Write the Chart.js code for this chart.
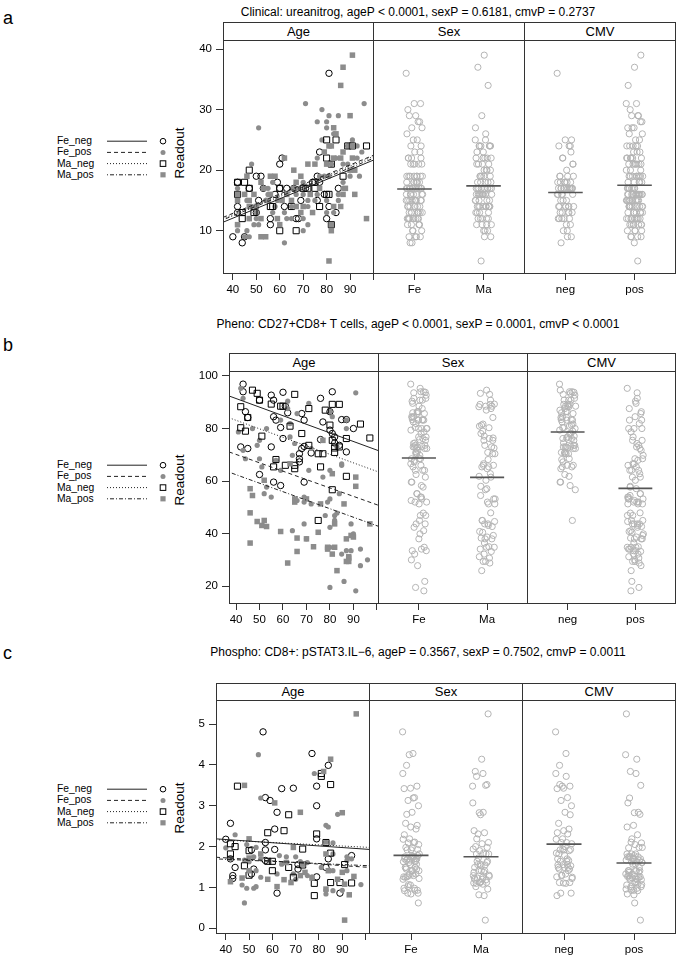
<!DOCTYPE html>
<html>
<head>
<meta charset="utf-8">
<script src="https://cdn.jsdelivr.net/npm/chart.js@4.4.0/dist/chart.umd.min.js"></script>
<style>
  body { margin: 0; background: #fff; }
  #fig { position: relative; width: 676px; height: 958px; overflow: hidden; background: #fff;
         font-family: "Liberation Sans", Arial, Helvetica, sans-serif; color: #000; }
  .abs { position: absolute; white-space: nowrap; line-height: 1; }
  .ttl { font-size: 12px; transform: translate(-50%, -50%); }
  .let { font-size: 18px; transform: translate(0, -50%); }
  .ylab { font-size: 13.5px; transform: translate(-50%, -50%) rotate(-90deg); }
  .leg { font-size: 10.3px; transform: translate(0, -50%); }
  .strip { position: absolute; box-sizing: border-box; border: 1px solid #333; font-size: 13px; text-align: center; background: #fff; }
  canvas { position: absolute; }
  svg { position: absolute; overflow: visible; }
</style>
</head>
<body>
<div id="fig"></div>
<script>
// ---- data: [age, readout] per group ----
const groupNames = ['Fe_neg', 'Fe_pos', 'Ma_neg', 'Ma_pos'];
const facetNames = ['Age', 'Sex', 'CMV'];
const sexLabels = ['Fe', 'Ma'];
const cmvLabels = ['neg', 'pos'];
const ageTicks = [40, 50, 60, 70, 80, 90, 100];
const ageTickLabels = ['40', '50', '60', '70', '80', '90', ''];
const letters = ['a', 'b', 'c'];
const titles = [
  'Clinical: ureanitrog, ageP < 0.0001, sexP = 0.6181, cmvP = 0.2737',
  'Pheno: CD27+CD8+ T cells, ageP < 0.0001, sexP = 0.0001, cmvP < 0.0001',
  'Phospho: CD8+: pSTAT3.IL\u22126, ageP = 0.3567, sexP = 0.7502, cmvP = 0.0011'
];

// a: Clinical ureanitrog
const aYTicks = [10, 20, 30, 40];
const aFeNeg = [[81,36],[40,9],[44,8],[45,9],[42,18],[42,14],[42,13],[61,22],[60,21],[51,15],[50,13],[56,11],[56,12],[59,18],[60,17],[58,16],[63,17],[62,14],[67,12],[68,12],[69,15],[76,19],[77,18],[76,15],[77,23],[74,18],[80,12],[81,14],[84,13],[85,17],[47,17],[52,19],[66,17],[71,17],[79,16],[50,19],[53,17]];
const aFePos = [[71,31],[96,31],[78,30],[80,28],[80,27],[51,27],[81,29],[85,29],[76,28],[78,25],[83,26],[91,25],[89,24],[93,24],[95,23],[93,22],[48,21],[42,17],[45,16],[46,15],[48,14],[50,13],[47,12],[49,11],[50,12],[51,11],[46,10],[45,9],[47,9],[42,11],[42,10],[55,17],[57,18],[55,16],[54,15],[59,15],[58,14],[57,13],[62,8],[62,13],[63,12],[65,12],[65,14],[67,16],[68,17],[70,18],[70,16],[72,15],[72,14],[70,12],[72,11],[70,10],[75,15],[76,16],[77,19],[79,19],[81,19],[80,15],[80,13],[83,13],[85,16],[85,15],[87,17],[87,18],[89,21],[90,19],[94,19],[87,21],[84,22],[82,21],[76,22]];
const aMaNeg = [[80,25],[84,25],[89,24],[97,24],[80,22],[82,21],[47,20],[42,18],[45,18],[47,17],[42,16],[44,13],[44,12],[49,13],[56,14],[57,14],[60,17],[60,10],[65,14],[67,10],[70,17],[72,17],[75,18],[75,17],[77,14],[80,16],[81,16],[82,11],[87,19],[91,24]];
const aMaPos = [[91,39],[87,37],[86,34],[90,29],[83,27],[84,26],[81,24],[82,24],[79,23],[87,23],[91,22],[91,24],[86,22],[83,22],[80,21],[72,21],[75,21],[62,22],[66,20],[58,19],[56,19],[46,19],[52,18],[53,17],[45,16],[42,16],[49,16],[47,15],[50,14],[47,14],[42,11],[42,15],[52,12],[52,9],[54,9],[47,12],[59,12],[60,11],[65,15],[67,14],[69,13],[70,14],[73,16],[74,13],[77,17],[81,5],[82,11],[82,10],[83,14],[86,14],[87,16],[88,17],[97,12],[92,16],[90,20],[92,20],[66,17],[67,18],[69,19],[61,15],[63,16],[56,16],[55,15]];
const aFitLeft = [11.4, 12.2, 12.0, 11.8];   // at left edge of Age axis
const aFitRight = [21.7, 22.5, 22.3, 22.0];  // at right edge
const aSexMeans = [16.9, 17.4];
const aCmvMeans = [16.3, 17.5];

// b: Pheno CD27+CD8+ T cells
const bYTicks = [20, 40, 60, 80, 100];
const bFeNeg = [[43,96.9],[43,94.0],[42,73.0],[45,72.4],[44,86.4],[45,84.2],[50,90.8],[50,62.5],[55,92.7],[56,90.8],[56,84.5],[57,83.2],[55,73.0],[56,59.6],[59,58.3],[59,80.4],[60,93.8],[61,88.5],[62,86.0],[60,76.2],[67,70.4],[68,72.4],[67,68.5],[67,67.3],[68,85.7],[69,83.2],[69,59.6],[69,73.2],[72,70.7],[76,91.5],[76,75.8],[77,82.5],[81,94.0],[80,86.4],[80,79.4],[81,78.1],[82,74.5],[84,73.6],[82,76.8],[85,83.4],[87,83.4],[87,71.1],[90,80.0]];
const bFePos = [[42,95.3],[43,91.5],[41,78.7],[43,71.7],[44,68.5],[47,80.0],[49,73.6],[50,75.5],[50,68.5],[51,65.4],[53,57.7],[52,55.2],[53,80.0],[55,53.9],[57,67.9],[59,64.1],[59,83.2],[62,90.4],[62,87.6],[63,81.9],[63,76.8],[64,69.8],[65,74.3],[64,41.1],[66,85.7],[66,52.6],[69,53.9],[69,52.0],[69,43.7],[70,38.0],[71,89.6],[71,64.1],[72,72.4],[79,52.0],[78,46.9],[80,42.4],[80,34.8],[80,86.4],[81,84.5],[80,53.2],[80,19.5],[82,46.9],[82,45.0],[83,73.0],[83,47.8],[84,55.2],[85,66.6],[85,66.0],[85,32.2],[86,21.8],[87,80.0],[87,33.5],[87,83.2],[89,43.7],[89,33.5],[90,39.9],[91,93.6],[91,18.2],[93,27.8],[96,30.0],[93,34.1],[80,64.1],[77,61.5],[72,51.3]];
const bMaNeg = [[42,88.3],[42,80.3],[44,79.0],[45,84.2],[47,94.6],[49,93.4],[50,90.8],[51,77.1],[55,89.3],[57,68.2],[56,65.4],[59,88.5],[60,88.5],[63,80.9],[65,93.0],[61,66.0],[65,66.0],[65,64.7],[68,78.1],[71,87.6],[71,73.6],[75,70.4],[76,65.4],[75,45.0],[77,70.4],[78,87.0],[81,89.2],[84,89.2],[81,75.5],[82,72.6],[82,70.9],[80,81.3],[84,73.0],[81,56.7],[87,61.8],[87,76.2],[93,81.7],[97,76.4]];
const bMaPos = [[46,57.1],[47,54.5],[46,47.9],[46,36.4],[49,44.6],[51,43.1],[52,45.0],[53,42.7],[52,60.3],[59,40.8],[62,28.8],[63,66.6],[65,53.2],[65,52.0],[66,38.3],[66,33.2],[70,38.0],[70,53.2],[73,35.0],[75,40.5],[77,75.5],[79,34.8],[79,34.1],[81,62.8],[81,32.2],[82,34.8],[82,43.7],[83,25.9],[87,38.0],[87,29.4],[88,31.2],[88,30.7],[88,29.4],[89,39.3],[90,38.7],[91,58.0],[91,61.5],[97,43.7],[86,51.3],[76,51.3]];
const bFitLeft = [92.4, 71.1, 84.1, 63.4];
const bFitRight = [71.5, 50.7, 63.4, 42.7];
const bSexMeans = [68.8, 61.4];
const bCmvMeans = [78.7, 57.2];

// c: Phospho CD8+ pSTAT3.IL-6
const cYTicks = [0, 1, 2, 3, 4, 5];
const cFeNeg = [[56,4.81],[77,4.28],[84,3.99],[79,3.48],[69,3.43],[64,3.42],[57,3.20],[59,3.13],[79,3.00],[62,2.84],[42,2.57],[61,2.43],[79,2.19],[40,2.18],[57,2.10],[57,1.92],[61,1.93],[51,1.92],[42,1.70],[44,1.49],[43,1.29],[43,1.22],[51,1.33],[52,1.45],[71,1.45],[71,1.56],[79,1.26],[84,1.70],[89,0.86],[62,0.86],[94,1.78],[83,1.49],[57,1.66]];
const cFePos = [[54,4.25],[78,3.79],[55,3.19],[88,2.79],[83,2.52],[84,2.48],[44,2.29],[83,2.11],[86,2.09],[49,2.05],[40,1.97],[53,1.98],[42,1.70],[48,1.67],[50,1.63],[52,1.75],[55,1.70],[63,1.78],[66,1.75],[70,1.75],[72,1.63],[75,1.61],[86,1.82],[92,1.75],[92,1.66],[94,1.70],[47,1.06],[49,0.98],[52,0.98],[53,1.02],[48,0.62],[53,1.41],[55,1.25],[62,1.33],[69,1.33],[70,1.20],[75,1.29],[77,1.26],[83,0.93],[83,0.84],[86,0.92],[90,0.93],[98,1.07],[92,1.41],[86,1.41],[81,1.49],[64,1.57]];
const cMaNeg = [[45,3.48],[81,3.79],[81,3.72],[85,3.52],[67,2.78],[65,2.39],[58,2.34],[79,2.31],[83,2.10],[42,2.07],[44,2.00],[42,1.82],[50,1.90],[73,1.94],[85,1.84],[58,1.64],[60,1.64],[48,1.53],[67,1.49],[73,1.55],[60,1.41],[50,1.30],[69,1.25],[78,1.10],[85,1.12],[89,1.12],[94,1.11],[78,0.80],[91,1.56]];
const cMaPos = [[96,5.25],[85,4.14],[82,3.84],[48,3.50],[90,2.83],[61,3.07],[72,2.84],[50,2.19],[69,1.98],[42,1.14],[47,1.23],[50,1.41],[50,1.72],[55,1.82],[58,1.20],[62,1.02],[65,1.19],[68,1.12],[72,1.29],[74,1.37],[77,1.23],[83,0.96],[84,1.41],[88,1.20],[91,0.20],[93,0.82],[95,1.27],[91,1.08],[83,1.82],[66,1.61],[73,1.57],[90,1.37]];
const cFitLeft = [2.19, 1.74, 2.17, 1.70];
const cFitRight = [1.93, 1.49, 1.98, 1.53];
const cSexMeans = [1.785, 1.753];
const cCmvMeans = [2.06, 1.60];

// ---- layout (pixels) ----
const AXW = 46, AXH = 30;
const panels = [
  { groups: [aFeNeg, aFePos, aMaNeg, aMaPos], fitL: aFitLeft, fitR: aFitRight, sexMeans: aSexMeans, cmvMeans: aCmvMeans, yTicks: aYTicks,
    letterY: 18, titleY: 12, legY: 158, labY: 153, headTop: 22, top: 40, bottom: 273, xs: [223, 373, 524, 675],
    ageMin: 35.8, ageMax: 100.2, yMin: 2.85, yMax: 41.5 },
  { groups: [bFeNeg, bFePos, bMaNeg, bMaPos], fitL: bFitLeft, fitR: bFitRight, sexMeans: bSexMeans, cmvMeans: bCmvMeans, yTicks: bYTicks,
    letterY: 345, titleY: 324, legY: 482, labY: 480, headTop: 353, top: 371, bottom: 603, xs: [229, 378, 527, 675],
    ageMin: 37.0, ageMax: 100.9, yMin: 13.2, yMax: 101.9 },
  { groups: [cFeNeg, cFePos, cMaNeg, cMaPos], fitL: cFitLeft, fitR: cFitRight, sexMeans: cSexMeans, cmvMeans: cCmvMeans, yTicks: cYTicks,
    letterY: 653, titleY: 652, legY: 806, labY: 808, headTop: 683, top: 700, bottom: 933, xs: [216, 369, 522, 675],
    ageMin: 35.8, ageMax: 101.9, yMin: -0.14, yMax: 5.59 }
];
const TITLE_X = 418;

const GRAY = '#8c8c8c', STRIP = '#b4b4b4', INK = '#222';
const groupStyle = [
  { pointStyle: 'circle', radius: 3.2, bg: 'rgba(0,0,0,0)', border: '#000', bw: 1, dash: [] },
  { pointStyle: 'circle', radius: 2.6, bg: GRAY, border: GRAY, bw: 0, dash: [4, 3] },
  { pointStyle: 'rect', radius: 4.3, bg: 'rgba(0,0,0,0)', border: '#000', bw: 1, dash: [1, 2] },
  { pointStyle: 'rect', radius: 3.9, bg: GRAY, border: GRAY, bw: 0, dash: [1, 2, 4, 2] }
];

Chart.defaults.font.family = '"Liberation Sans", Arial, Helvetica, sans-serif';
const fig = document.getElementById('fig');

const framePlugin = {
  id: 'frame',
  afterDatasetsDraw(chart) {
    const a = chart.chartArea, ctx = chart.ctx;
    ctx.save();
    ctx.strokeStyle = '#333';
    ctx.lineWidth = 1;
    ctx.strokeRect(Math.round(a.left) + 0.5, Math.round(a.top) + 0.5,
                   Math.round(a.right - a.left) - 1, Math.round(a.bottom - a.top) - 1);
    ctx.restore();
  }
};

function addEl(cls, text, left, top) {
  const d = document.createElement('div');
  d.className = 'abs ' + cls;
  d.textContent = text;
  d.style.left = left + 'px';
  d.style.top = top + 'px';
  fig.appendChild(d);
  return d;
}

function addCanvas(left, top, w, h) {
  const c = document.createElement('canvas');
  c.width = w; c.height = h;
  c.style.left = left + 'px'; c.style.top = top + 'px';
  c.style.width = w + 'px'; c.style.height = h + 'px';
  fig.appendChild(c);
  return c;
}

function axis(min, max, vals, labels, isX, show) {
  return {
    type: 'linear', min: min, max: max, display: show, position: isX ? 'bottom' : 'left',
    afterBuildTicks: s => { s.ticks = vals.map(v => ({ value: v })); },
    afterFit: s => {
      if (!show) return;
      if (isX) s.height = AXH; else s.width = AXW;
      s.paddingLeft = s.paddingRight = s.paddingTop = s.paddingBottom = 0;
    },
    ticks: { autoSkip: false, maxRotation: 0, minRotation: 0, padding: isX ? 3 : 4, color: '#000',
             font: { size: 11.5 }, callback: (v, i) => labels[i] },
    grid: { drawOnChartArea: false, drawTicks: true, tickLength: isX ? 6 : 7, color: '#333', lineWidth: 1 },
    border: { display: false }
  };
}

function makeChart(canvas, datasets, xOpts, yOpts) {
  return new Chart(canvas, {
    type: 'scatter',
    data: { datasets: datasets },
    options: {
      responsive: false, animation: false, devicePixelRatio: 1, events: [],
      layout: { padding: 0, autoPadding: false },
      plugins: { legend: { display: false }, tooltip: { enabled: false } },
      scales: { x: xOpts, y: yOpts }
    },
    plugins: [framePlugin]
  });
}

// deterministic horizontal spread for the strip plots
function jitter(i) { return (((i * 0.6180339887) % 1) - 0.5) * 0.24; }

function stripDatasets(columns, means) {
  const sets = [];
  means.forEach((m, k) => {
    sets.push({ data: [{ x: k + 0.75, y: m }, { x: k + 1.25, y: m }], showLine: true,
                borderColor: '#555', borderWidth: 1.6, pointRadius: 0 });
  });
  columns.forEach((col, k) => {
    sets.push({ data: col.map((p, i) => ({ x: k + 1 + jitter(i), y: p[1] })),
                pointStyle: 'circle', pointRadius: 3.1, pointBackgroundColor: 'rgba(0,0,0,0)',
                pointBorderColor: STRIP, pointBorderWidth: 1 });
  });
  return sets;
}

function addLegend(cy) {
  const ns = 'http://www.w3.org/2000/svg';
  const svg = document.createElementNS(ns, 'svg');
  svg.setAttribute('width', 80); svg.setAttribute('height', 60);
  svg.style.left = '100px'; svg.style.top = (cy - 30) + 'px';
  groupNames.forEach((name, i) => {
    const y = cy + (i - 1.5) * 11.2;
    addEl('leg', name, 57, y);
    const ly = y - (cy - 30);
    const ln = document.createElementNS(ns, 'line');
    ln.setAttribute('x1', 7); ln.setAttribute('x2', 47);
    ln.setAttribute('y1', ly); ln.setAttribute('y2', ly);
    ln.setAttribute('stroke', INK); ln.setAttribute('stroke-width', 1);
    if (groupStyle[i].dash.length) ln.setAttribute('stroke-dasharray', groupStyle[i].dash.join(' '));
    svg.appendChild(ln);
    const st = groupStyle[i];
    let sym;
    if (st.pointStyle === 'circle') {
      sym = document.createElementNS(ns, 'circle');
      sym.setAttribute('cx', 63); sym.setAttribute('cy', ly);
      sym.setAttribute('r', st.bw ? 2.8 : 2.5);
    } else {
      const s = st.bw ? 5.6 : 5.2;
      sym = document.createElementNS(ns, 'rect');
      sym.setAttribute('x', 63 - s / 2); sym.setAttribute('y', ly - s / 2);
      sym.setAttribute('width', s); sym.setAttribute('height', s);
    }
    sym.setAttribute('fill', st.bw ? 'none' : GRAY);
    sym.setAttribute('stroke', st.bw ? '#000' : 'none');
    sym.setAttribute('stroke-width', 1);
    svg.appendChild(sym);
  });
  fig.appendChild(svg);
}

panels.forEach((p, pi) => {
  addEl('let', letters[pi], 3, p.letterY);
  addEl('ttl', titles[pi], TITLE_X, p.titleY);
  addEl('ylab', 'Readout', 180, p.labY);
  addLegend(p.legY);

  const H = p.bottom - p.top + 1;
  const widths = [0, 1, 2].map(k => p.xs[k + 1] - p.xs[k] + 1);

  facetNames.forEach((f, k) => {
    const s = document.createElement('div');
    s.className = 'strip';
    s.textContent = f;
    s.style.left = p.xs[k] + 'px';
    s.style.top = p.headTop + 'px';
    s.style.width = widths[k] + 'px';
    s.style.height = (p.top - p.headTop + 1) + 'px';
    s.style.lineHeight = (p.top - p.headTop - 1) + 'px';
    fig.appendChild(s);
  });

  const yLabels = p.yTicks.map(String);

  // Age facet: scatter by group plus one fitted line per group
  const ageSets = [];
  groupNames.forEach((g, i) => {
    ageSets.push({ data: [{ x: p.ageMin, y: p.fitL[i] }, { x: p.ageMax, y: p.fitR[i] }], showLine: true,
                   borderColor: INK, borderWidth: 1, borderDash: groupStyle[i].dash, pointRadius: 0 });
  });
  for (let i = 3; i >= 0; i--) {
    const st = groupStyle[i];
    ageSets.push({ data: p.groups[i].map(d => ({ x: d[0], y: d[1] })),
                   pointStyle: st.pointStyle, pointRadius: st.radius,
                   pointBackgroundColor: st.bg, pointBorderColor: st.border, pointBorderWidth: st.bw });
  }
  makeChart(addCanvas(p.xs[0] - AXW, p.top, AXW + widths[0], H + AXH), ageSets,
            axis(p.ageMin, p.ageMax, ageTicks, ageTickLabels, true, true),
            axis(p.yMin, p.yMax, p.yTicks, yLabels, false, true));

  // Sex facet
  const [fn, fp, mn, mp] = p.groups;
  makeChart(addCanvas(p.xs[1], p.top, widths[1], H + AXH),
            stripDatasets([fn.concat(fp), mn.concat(mp)], p.sexMeans),
            axis(0.4, 2.6, [1, 2], sexLabels, true, true),
            axis(p.yMin, p.yMax, p.yTicks, yLabels, false, false));

  // CMV facet
  makeChart(addCanvas(p.xs[2], p.top, widths[2], H + AXH),
            stripDatasets([fn.concat(mn), fp.concat(mp)], p.cmvMeans),
            axis(0.4, 2.6, [1, 2], cmvLabels, true, true),
            axis(p.yMin, p.yMax, p.yTicks, yLabels, false, false));
});
</script>
</body>
</html>
